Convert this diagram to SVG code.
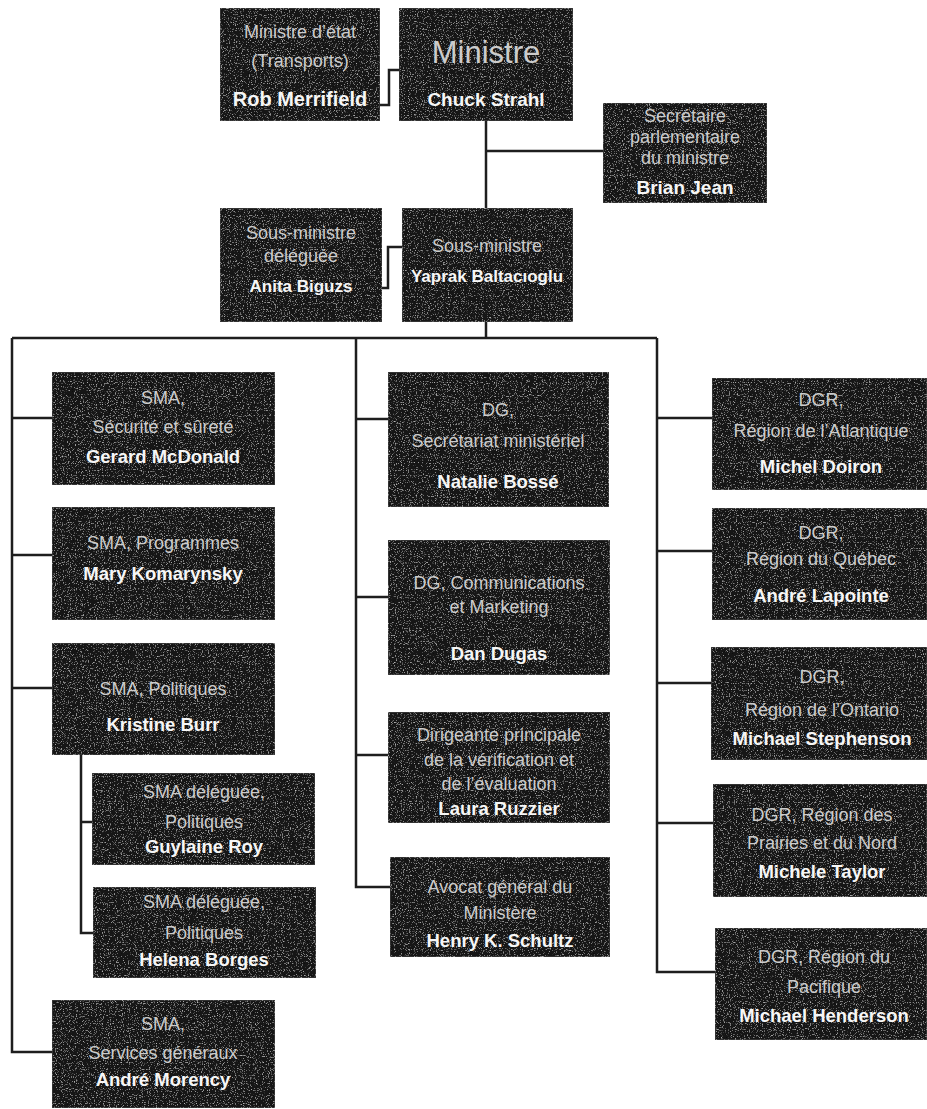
<svg xmlns="http://www.w3.org/2000/svg" width="927" height="1109" viewBox="0 0 927 1109">
<defs>
<filter id="grain" x="0" y="0" width="100%" height="100%">
<feTurbulence type="fractalNoise" baseFrequency="0.85" numOctaves="2" seed="7" result="noise"/>
<feColorMatrix in="noise" type="matrix" values="0 0 0 0 0.55  0 0 0 0 0.55  0 0 0 0 0.55  0 0 0 3 -1.75" result="g"/>
<feComposite in="g" in2="SourceGraphic" operator="in" result="gm"/>
<feMerge><feMergeNode in="SourceGraphic"/><feMergeNode in="gm"/></feMerge>
</filter>
<style>
.box{fill:#181818;stroke:#4a4a4a;stroke-width:1;filter:url(#grain)}
.t{font-family:"Liberation Sans",Arial,sans-serif;font-size:18px;fill:#cccccc;text-anchor:middle}
.n{font-family:"Liberation Sans",Arial,sans-serif;font-size:18.5px;font-weight:bold;fill:#f6f6f6;text-anchor:middle}
.ln{fill:none;stroke:#1e1e1e;stroke-width:2.5}
</style>
</defs>
<rect width="927" height="1109" fill="#ffffff"/>
<g id="connectors" class="ln">
<path d="M380,105 H389 V70 H399"/>
<path d="M486,121 V208"/>
<path d="M486,151 H603"/>
<path d="M382,288 H388 V247 H402"/>
<path d="M486,322 V338"/>
<path d="M12,338 H657"/>
<path d="M12,338 V1052 H52"/>
<path d="M12,418 H52"/>
<path d="M12,555 H52"/>
<path d="M12,688 H52"/>
<path d="M81,755 V933 H93"/>
<path d="M81,822 H92"/>
<path d="M356,338 V887 H390"/>
<path d="M356,419 H388"/>
<path d="M356,597 H388"/>
<path d="M356,755 H388"/>
<path d="M657,338 V972 H715"/>
<path d="M657,418 H712"/>
<path d="M657,551 H712"/>
<path d="M657,683 H711"/>
<path d="M657,823 H713"/>
</g>
<g id="merrifield">
<rect class="box" x="220" y="8" width="160" height="113"/>
<text class="t" x="300" y="38">Ministre d’état</text>
<text class="t" x="300" y="67">(Transports)</text>
<text class="n" x="300" y="106" style="font-size:20px">Rob Merrifield</text>
</g>
<g id="strahl">
<rect class="box" x="399" y="8" width="174" height="113"/>
<text class="t" x="486" y="63" style="font-size:31px">Ministre</text>
<text class="n" x="486" y="106" style="font-size:19px">Chuck Strahl</text>
</g>
<g id="jean">
<rect class="box" x="603" y="103" width="164" height="100"/>
<text class="t" x="685" y="122">Secrétaire</text>
<text class="t" x="685" y="143">parlementaire</text>
<text class="t" x="685" y="164">du ministre</text>
<text class="n" x="685" y="194" style="font-size:19px">Brian Jean</text>
</g>
<g id="biguzs">
<rect class="box" x="220" y="208" width="162" height="114"/>
<text class="t" x="301" y="239">Sous-ministre</text>
<text class="t" x="301" y="262">déléguée</text>
<text class="n" x="301" y="292" style="font-size:17px">Anita Biguzs</text>
</g>
<g id="baltacioglu">
<rect class="box" x="402" y="208" width="171" height="114"/>
<text class="t" x="487" y="252">Sous-ministre</text>
<text class="n" x="487" y="282" style="font-size:17px">Yaprak Baltacıoglu</text>
</g>
<g id="mcdonald">
<rect class="box" x="52" y="372" width="223" height="113"/>
<text class="t" x="163" y="404">SMA,</text>
<text class="t" x="163" y="433">Sécurité et sûreté</text>
<text class="n" x="163" y="463">Gerard McDonald</text>
</g>
<g id="komarynsky">
<rect class="box" x="52" y="507" width="223" height="113"/>
<text class="t" x="163" y="549">SMA, Programmes</text>
<text class="n" x="163" y="580">Mary Komarynsky</text>
</g>
<g id="burr">
<rect class="box" x="52" y="643" width="223" height="112"/>
<text class="t" x="163" y="695">SMA, Politiques</text>
<text class="n" x="163" y="731">Kristine Burr</text>
</g>
<g id="roy">
<rect class="box" x="92" y="773" width="223" height="92"/>
<text class="t" x="204" y="798">SMA déléguée,</text>
<text class="t" x="204" y="828">Politiques</text>
<text class="n" x="204" y="853">Guylaine Roy</text>
</g>
<g id="borges">
<rect class="box" x="93" y="887" width="223" height="91"/>
<text class="t" x="204" y="908">SMA déléguée,</text>
<text class="t" x="204" y="939">Politiques</text>
<text class="n" x="204" y="966">Helena Borges</text>
</g>
<g id="morency">
<rect class="box" x="52" y="1000" width="223" height="108"/>
<text class="t" x="163" y="1030">SMA,</text>
<text class="t" x="163" y="1059">Services généraux</text>
<text class="n" x="163" y="1086">André Morency</text>
</g>
<g id="bosse">
<rect class="box" x="388" y="372" width="221" height="135"/>
<text class="t" x="498" y="416">DG,</text>
<text class="t" x="498" y="447">Secrétariat ministériel</text>
<text class="n" x="498" y="488">Natalie Bossé</text>
</g>
<g id="dugas">
<rect class="box" x="388" y="540" width="222" height="135"/>
<text class="t" x="499" y="589">DG, Communications</text>
<text class="t" x="499" y="613">et Marketing</text>
<text class="n" x="499" y="660">Dan Dugas</text>
</g>
<g id="ruzzier">
<rect class="box" x="388" y="712" width="222" height="111"/>
<text class="t" x="499" y="741">Dirigeante principale</text>
<text class="t" x="499" y="766">de la vérification et</text>
<text class="t" x="499" y="790">de l’évaluation</text>
<text class="n" x="499" y="815">Laura Ruzzier</text>
</g>
<g id="schultz">
<rect class="box" x="390" y="857" width="220" height="100"/>
<text class="t" x="500" y="893">Avocat général du</text>
<text class="t" x="500" y="919">Ministère</text>
<text class="n" x="500" y="947">Henry K. Schultz</text>
</g>
<g id="doiron">
<rect class="box" x="712" y="378" width="215" height="112"/>
<text class="t" x="821" y="406">DGR,</text>
<text class="t" x="821" y="437">Région de l’Atlantique</text>
<text class="n" x="821" y="473">Michel Doiron</text>
</g>
<g id="lapointe">
<rect class="box" x="712" y="508" width="215" height="112"/>
<text class="t" x="821" y="539">DGR,</text>
<text class="t" x="821" y="565">Région du Québec</text>
<text class="n" x="821" y="602">André Lapointe</text>
</g>
<g id="stephenson">
<rect class="box" x="711" y="647" width="216" height="113"/>
<text class="t" x="822" y="683">DGR,</text>
<text class="t" x="822" y="716">Région de l’Ontario</text>
<text class="n" x="822" y="745">Michael Stephenson</text>
</g>
<g id="taylor">
<rect class="box" x="713" y="784" width="214" height="113"/>
<text class="t" x="822" y="821">DGR, Région des</text>
<text class="t" x="822" y="849">Prairies et du Nord</text>
<text class="n" x="822" y="878">Michele Taylor</text>
</g>
<g id="henderson">
<rect class="box" x="715" y="928" width="212" height="112"/>
<text class="t" x="824" y="963">DGR, Région du</text>
<text class="t" x="824" y="993">Pacifique</text>
<text class="n" x="824" y="1022">Michael Henderson</text>
</g>
</svg>
